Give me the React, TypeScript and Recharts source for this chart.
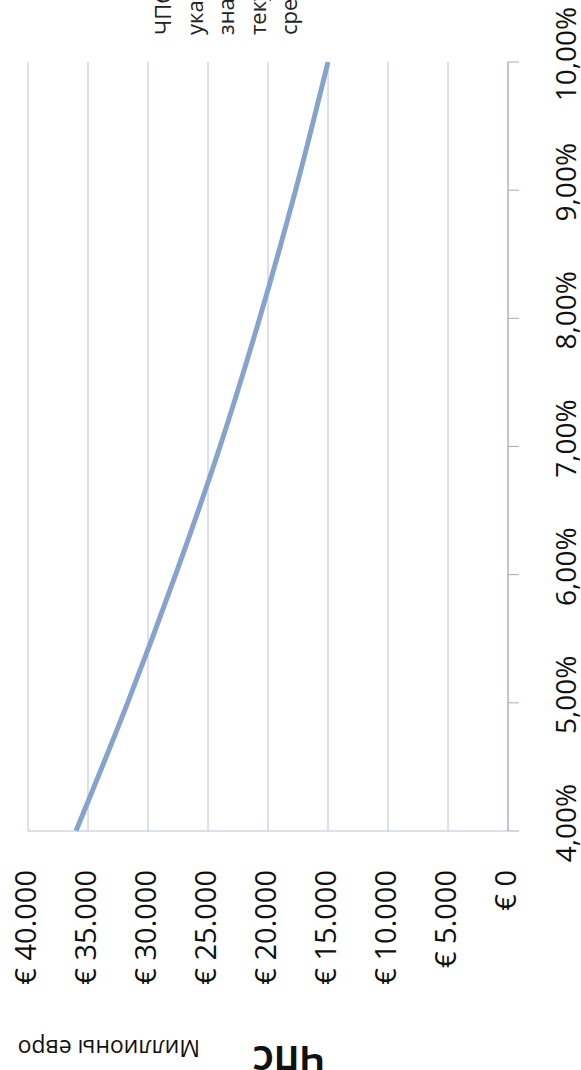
import { LineChart, Line, XAxis, YAxis, CartesianGrid } from "recharts";

// discount rate (%) and net present value (EUR, thousands shown as "€ 40.000")
const rates = [4, 5, 6, 7, 8, 9, 10];
const npvValues = [36000, 31700, 27700, 24000, 20700, 17700, 15000];

const euroTicks = [0, 5000, 10000, 15000, 20000, 25000, 30000, 35000, 40000];
const rateTicks = [4, 5, 6, 7, 8, 9, 10];

const legendLines = ["ЧПС при", "указанных", "значениях", "текущей", "средней"];
const unitTitle = "Миллионы евро";
const chartTitle = "ЧПС";

const data = rates.map((rate, i) => ({ rate, npv: npvValues[i] }));

const FONT = "'Open Sans', 'DejaVu Sans', sans-serif";
const GRID = "#bcc1d9";

const fmtEuro = (v: number) =>
  "€ " + String(v).replace(/\B(?=(\d{3})+(?!\d))/g, ".");
const fmtRate = (v: number) => v.toFixed(2).replace(".", ",") + "%";

function EuroTick(props: any) {
  const { x, payload } = props;
  const bx = x + 8;
  const by = 870;
  return (
    <text
      x={bx}
      y={by}
      transform={`rotate(-90, ${bx}, ${by})`}
      textAnchor="end"
      fontFamily={FONT}
      fontSize={29}
      fill="#111"
    >
      {fmtEuro(payload.value)}
    </text>
  );
}

function RateTick(props: any) {
  const { y, payload } = props;
  const bx = 576;
  const by = y - 8;
  return (
    <text
      x={bx}
      y={by}
      transform={`rotate(-90, ${bx}, ${by})`}
      textAnchor="middle"
      fontFamily={FONT}
      fontSize={28}
      fill="#111"
    >
      {fmtRate(payload.value)}
    </text>
  );
}

export default function App() {
  return (
    <div
      style={{
        position: "absolute",
        left: 0,
        top: 0,
        width: 581,
        height: 1070,
        overflow: "hidden",
        background: "#fff",
      }}
    >
      <LineChart
        width={581}
        height={1070}
        layout="vertical"
        data={data}
        margin={{ top: 62, right: 13, bottom: 179, left: 28 }}
      >
        <CartesianGrid horizontal={false} stroke={GRID} />
        <XAxis
          type="number"
          dataKey="npv"
          domain={[0, 40000]}
          ticks={euroTicks}
          reversed
          interval={0}
          height={60}
          axisLine={{ stroke: GRID }}
          tickLine={false}
          tick={<EuroTick />}
        />
        <YAxis
          type="number"
          dataKey="rate"
          orientation="right"
          domain={[4, 10]}
          ticks={rateTicks}
          reversed
          interval={0}
          width={60}
          tickSize={11}
          axisLine={{ stroke: "#a6abc4" }}
          tickLine={{ stroke: "#a6abc4" }}
          tick={<RateTick />}
        />
        <Line
          type="monotone"
          dataKey="npv"
          stroke="#85a3cc"
          strokeWidth={5}
          dot={false}
          isAnimationActive={false}
        />
        {legendLines.map((t, i) => {
          const bx = 171 + i * 31.5;
          const by = 35;
          return (
            <text
              key={t}
              x={bx}
              y={by}
              transform={`rotate(-90, ${bx}, ${by})`}
              fontFamily={FONT}
              fontSize={22}
              fill="#222"
            >
              {t}
            </text>
          );
        })}
        <text
          x={200}
          y={1040}
          transform="rotate(180, 200, 1040)"
          fontFamily={FONT}
          fontSize={23}
          fill="#111"
        >
          {unitTitle}
        </text>
        <text
          x={324}
          y={1046}
          transform="rotate(180, 324, 1046)"
          fontFamily={FONT}
          fontSize={34}
          fontWeight="bold"
          fill="#111"
        >
          {chartTitle}
        </text>
      </LineChart>
    </div>
  );
}
